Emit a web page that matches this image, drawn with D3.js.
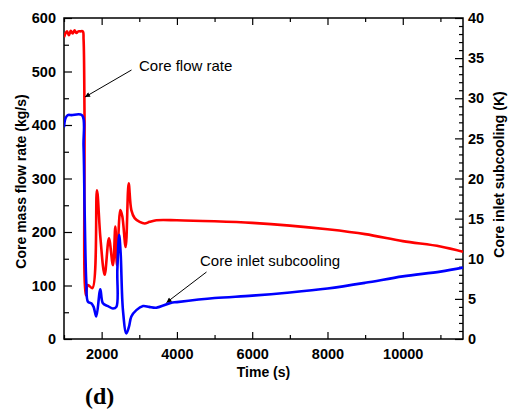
<!DOCTYPE html>
<html>
<head>
<meta charset="utf-8">
<script src="https://cdn.jsdelivr.net/npm/d3@7"></script>
<style>
  body { margin: 0; background: #fff; }
  svg text { font-family: "Liberation Sans", Arial, sans-serif; }
</style>
</head>
<body>
<div id="chart"></div>
<script>
// core mass flow rate (kg/s), left axis
const flowTime = [1000, 1030, 1080, 1130, 1180, 1230, 1280, 1330, 1380, 1430, 1500, 1520, 1545, 1575, 1636, 1753,
  1875, 1965, 2080, 2194, 2300, 2364, 2407, 2497, 2550, 2638, 2718, 2789, 2877, 3010, 3143, 3276, 3454,
  4000, 5000, 6000, 7000, 8000, 9000, 10000, 11000, 11600];
const flowRate = [564, 570, 575, 568, 576, 571, 577, 572, 575, 575, 575, 560, 420, 82, 101, 95,
  278, 191, 120, 188, 138, 210, 138, 241, 229, 172, 291, 241, 226, 219, 216, 219, 222,
  222, 220, 217, 212, 205, 196, 183, 173, 163];

// core inlet subcooling (K), right axis
const subTime = [1000, 1040, 1100, 1200, 1476, 1520, 1548, 1593, 1636, 1725, 1787, 1858, 1965, 2034, 2168, 2300, 2391,
  2417, 2465, 2505, 2566, 2656, 2725, 2789, 2922, 3100, 3260, 3450, 3835, 4000, 5000, 6000, 7000,
  8000, 9000, 10000, 11000, 11600];
const subcooling = [26.4, 27.5, 27.9, 27.9, 27.9, 24, 16, 7.0, 4.65, 4.45, 4.0, 2.8, 6.2, 4.45, 4.1, 3.8, 4.0,
  8.6, 13.0, 10.7, 3.6, 0.7, 1.5, 2.8, 3.6, 4.1, 4.0, 3.9, 4.5, 4.6, 5.1, 5.4, 5.8,
  6.3, 7.0, 7.8, 8.4, 8.9];

const xMajor = [2000, 4000, 6000, 8000, 10000];
const xMinor = [1000, 3000, 5000, 7000, 9000, 11000];
const leftTicks = [0, 100, 200, 300, 400, 500, 600];
const rightTicks = [0, 5, 10, 15, 20, 25, 30, 35, 40];

const width = 510, height = 412;
const margin = {top: 18, right: 47, bottom: 73, left: 64};
const iw = width - margin.left - margin.right;
const ih = height - margin.top - margin.bottom;

const svg = d3.select("#chart").append("svg")
  .attr("width", width)
  .attr("height", height);

const g = svg.append("g")
  .attr("transform", "translate(" + margin.left + "," + margin.top + ")");

const x = d3.scaleLinear().domain([1000, 11600]).range([0, iw]);
const yL = d3.scaleLinear().domain([0, 600]).range([ih, 0]);
const yR = d3.scaleLinear().domain([0, 40]).range([ih, 0]);

g.append("clipPath").attr("id", "clip")
  .append("rect").attr("width", iw).attr("height", ih);

// ticks, all pointing inward
function tickAxis(axis, sel) {
  sel.call(axis);
  sel.select(".domain").remove();
  sel.selectAll("line").attr("stroke", "#000").attr("stroke-width", 1.2);
  sel.selectAll("text")
    .attr("font-size", "14.5px")
    .attr("font-weight", "bold")
    .attr("fill", "#000");
}

const minorL = d3.range(0, 601, 50).filter(v => v % 100 !== 0);
const minorR = d3.range(0, 41, 1).filter(v => v % 5 !== 0);

// bottom
tickAxis(d3.axisBottom(x).tickValues(xMajor).tickSize(-7).tickPadding(10).tickFormat(d3.format("d")),
  g.append("g").attr("transform", "translate(0," + ih + ")"));
tickAxis(d3.axisBottom(x).tickValues(xMinor).tickSize(-4).tickFormat(""),
  g.append("g").attr("transform", "translate(0," + ih + ")"));
// top
tickAxis(d3.axisTop(x).tickValues(xMajor).tickSize(-7).tickFormat(""), g.append("g"));
tickAxis(d3.axisTop(x).tickValues(xMinor).tickSize(-4).tickFormat(""), g.append("g"));
// left
tickAxis(d3.axisLeft(yL).tickValues(leftTicks).tickSize(-8).tickPadding(8), g.append("g"));
tickAxis(d3.axisLeft(yL).tickValues(minorL).tickSize(-5).tickFormat(""), g.append("g"));
// right
tickAxis(d3.axisRight(yR).tickValues(rightTicks).tickSize(-8).tickPadding(5),
  g.append("g").attr("transform", "translate(" + iw + ",0)"));
tickAxis(d3.axisRight(yR).tickValues(minorR).tickSize(-4).tickFormat(""),
  g.append("g").attr("transform", "translate(" + iw + ",0)"));

g.append("rect")
  .attr("width", iw).attr("height", ih)
  .attr("fill", "none").attr("stroke", "#000").attr("stroke-width", 1.5);

const line = d3.line().curve(d3.curveCatmullRom.alpha(0.5));

g.append("path")
  .attr("clip-path", "url(#clip)")
  .attr("d", line(flowTime.map((t, i) => [x(t), yL(flowRate[i])])))
  .attr("fill", "none").attr("stroke", "#ff0000").attr("stroke-width", 2.6)
  .attr("stroke-linejoin", "round");

g.append("path")
  .attr("clip-path", "url(#clip)")
  .attr("d", line(subTime.map((t, i) => [x(t), yR(subcooling[i])])))
  .attr("fill", "none").attr("stroke", "#0000ff").attr("stroke-width", 2.6)
  .attr("stroke-linejoin", "round");

// annotations with arrows
svg.append("defs").append("marker")
  .attr("id", "arrow")
  .attr("viewBox", "0 0 10 10")
  .attr("refX", 10).attr("refY", 5)
  .attr("markerWidth", 7).attr("markerHeight", 5)
  .attr("markerUnits", "userSpaceOnUse")
  .attr("orient", "auto")
  .append("path").attr("d", "M0,0 L10,5 L0,10 z").attr("fill", "#000");

const notes = [
  {text: "Core flow rate", tx: 139, ty: 71, from: [131.5, 70], to: [85, 97]},
  {text: "Core inlet subcooling", tx: 200, ty: 266, from: [206.5, 272], to: [166.5, 302.5]}
];
notes.forEach(n => {
  svg.append("text")
    .attr("x", n.tx).attr("y", n.ty)
    .attr("font-size", "15px")
    .attr("fill", "#000")
    .text(n.text);
  svg.append("line")
    .attr("x1", n.from[0]).attr("y1", n.from[1])
    .attr("x2", n.to[0]).attr("y2", n.to[1])
    .attr("stroke", "#000").attr("stroke-width", 1)
    .attr("marker-end", "url(#arrow)");
});

// axis titles
svg.append("text")
  .attr("transform", "translate(26," + (margin.top + ih / 2 + 3) + ") rotate(-90)")
  .attr("text-anchor", "middle")
  .attr("font-size", "14px").attr("font-weight", "bold")
  .text("Core mass flow rate (kg/s)");

svg.append("text")
  .attr("transform", "translate(504," + (margin.top + ih / 2 - 4) + ") rotate(-90)")
  .attr("text-anchor", "middle")
  .attr("font-size", "14px").attr("font-weight", "bold")
  .text("Core inlet subcooling (K)");

svg.append("text")
  .attr("x", margin.left + iw / 2).attr("y", 377)
  .attr("text-anchor", "middle")
  .attr("font-size", "14px").attr("font-weight", "bold")
  .text("Time (s)");

svg.append("text")
  .attr("x", 85).attr("y", 404)
  .style("font-family", "'Liberation Serif', 'Times New Roman', serif")
  .attr("font-size", "24px").attr("font-weight", "bold")
  .text("(d)");
</script>
</body>
</html>
